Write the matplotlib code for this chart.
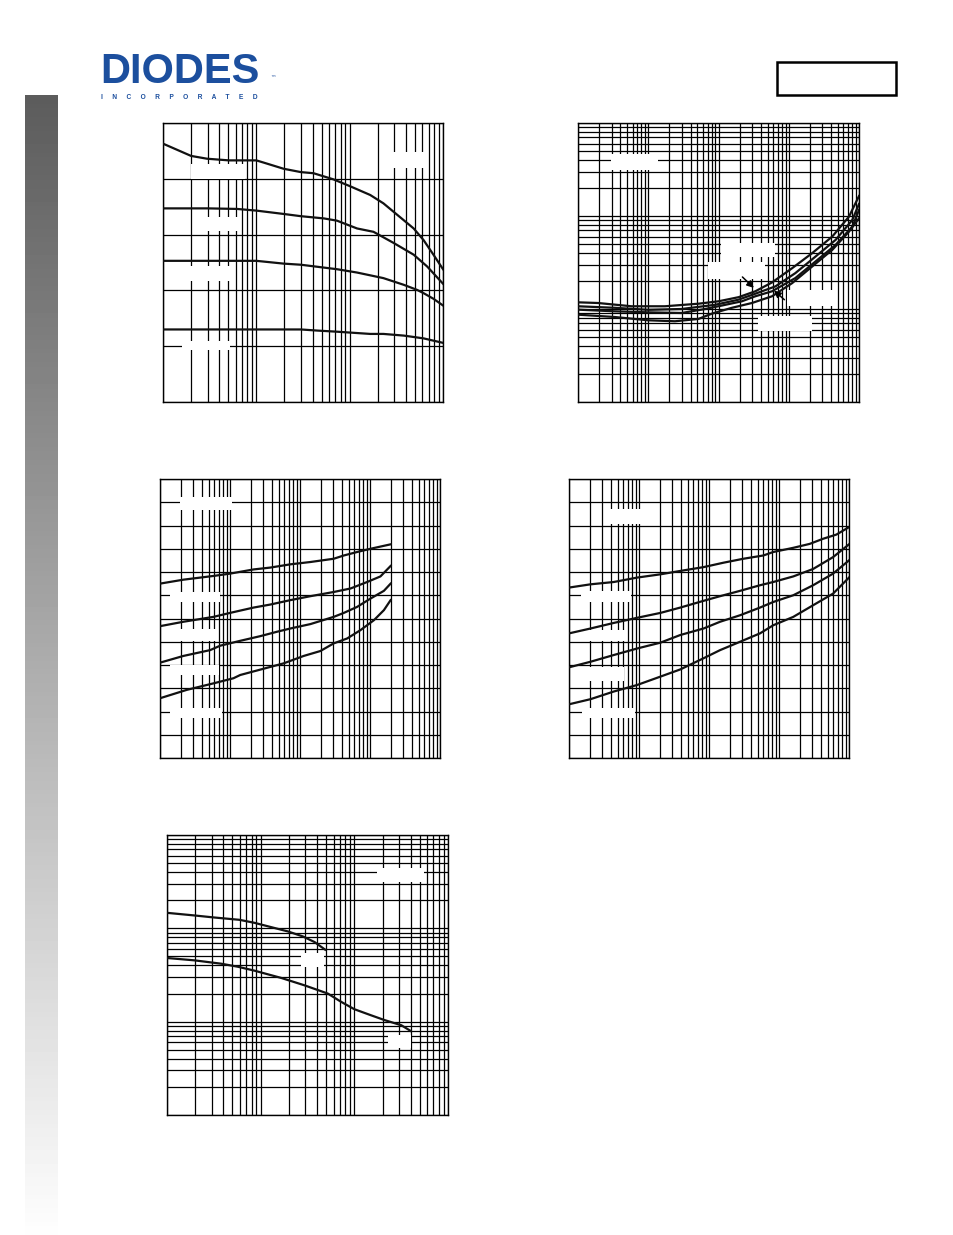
import numpy as np
import matplotlib
matplotlib.use("Agg")
from matplotlib import pyplot as plt
from matplotlib.patches import Rectangle

# ---- curve data (arbitrary units, axes have no labels) ----

# plot 1: log x 0.1..100, linear y 0..500
p1_x_a = [0.1, 0.2, 0.296, 0.509, 1.0, 1.2, 1.96, 3.0, 4.1, 6.7, 10, 16.6, 23, 31, 48.5, 62, 79, 100]
p1_y_a = [463, 441, 436, 433, 433, 429, 418, 412, 410, 399, 387, 371, 356, 338, 311, 290, 264, 238]
p1_x_b = [0.1, 0.3, 0.62, 1.0, 1.96, 3.0, 5.3, 7.3, 12, 18, 29.6, 48.5, 67.5, 100]
p1_y_b = [347, 347, 346, 343, 337, 333, 329, 325, 311, 305, 285, 264, 243, 212]
p1_x_c = [0.1, 1.0, 1.96, 3.0, 7.3, 12, 23, 38, 52.6, 62, 79, 100]
p1_y_c = [253, 253, 248, 246, 238, 232, 222, 210, 201, 195, 185, 173]
p1_x_d = [0.1, 3.0, 4.5, 7.3, 16.6, 23, 38, 62, 100]
p1_y_d = [130, 130, 128, 126, 122, 122, 119, 114, 106]

# plot 2: log x 0.1..1000, log y 1..1000
p2_x_a = [0.1, 0.193, 0.578, 1.73, 5.18, 10, 19.3, 33.4, 57.8, 112, 215, 416, 720, 1000]
p2_y_a = [11.8, 11.6, 10.7, 10.7, 11.4, 12.1, 13.4, 15.5, 19.3, 27.5, 39.8, 60.1, 98.4, 164]
p2_x_b = [0.1, 0.334, 1.0, 2.99, 8.96, 19.3, 33.4, 64.5, 124, 240, 464, 803, 1000]
p2_y_b = [10.7, 10.3, 9.8, 10.0, 11.1, 12.6, 14.6, 17.5, 24.3, 36.6, 55.3, 90.6, 134.5]
p2_x_c = [0.1, 0.334, 1.0, 2.99, 6.45, 11.2, 21.5, 33.4, 57.8, 124, 240, 464, 803, 1000]
p2_y_c = [9.84, 9.44, 9.21, 9.06, 10.0, 10.9, 12.1, 13.7, 15.5, 21.5, 32.4, 48.9, 76.9, 116]
p2_x_d = [0.1, 0.334, 1.0, 2.40, 5.18, 8.03, 15.5, 29.9, 57.8, 112, 215, 416, 720, 1000]
p2_y_d = [8.69, 8.20, 7.56, 7.38, 7.82, 8.91, 10.3, 11.6, 13.7, 19.0, 28.6, 43.2, 67.9, 94.4]

# plot 3: log x 0.1..1000, linear y 0..1.2
p3_x_a = [0.1, 0.216, 0.58, 1.0, 2.17, 3.76, 7.28, 14.1, 30.3, 42.2, 65.5, 102, 197]
p3_y_a = [0.750, 0.767, 0.783, 0.793, 0.811, 0.819, 0.833, 0.843, 0.857, 0.871, 0.886, 0.900, 0.919]
p3_x_b = [0.1, 0.216, 0.58, 1.0, 2.17, 3.76, 7.28, 14.1, 30.3, 52.6, 91, 141, 197]
p3_y_b = [0.567, 0.586, 0.607, 0.624, 0.647, 0.660, 0.679, 0.696, 0.714, 0.729, 0.757, 0.781, 0.826]
p3_x_c = [0.1, 0.216, 0.52, 0.723, 1.40, 2.70, 4.69, 7.28, 14.1, 30.3, 42.2, 65.5, 102, 158, 197]
p3_y_c = [0.410, 0.439, 0.464, 0.483, 0.504, 0.524, 0.543, 0.557, 0.576, 0.607, 0.624, 0.650, 0.686, 0.719, 0.750]
p3_x_d = [0.1, 0.241, 0.58, 1.12, 1.40, 3.02, 5.83, 11.3, 19.5, 30.3, 47.1, 73.1, 114, 158, 197]
p3_y_d = [0.257, 0.293, 0.321, 0.343, 0.357, 0.384, 0.407, 0.439, 0.460, 0.493, 0.514, 0.550, 0.593, 0.636, 0.679]

# plot 4: log x 0.1..1000, linear y 0..1.2
p4_x_a = [0.1, 0.203, 0.437, 0.940, 2.02, 4.34, 8.36, 16.1, 31.0, 59.7, 82.8, 160, 275, 427, 661, 1000]
p4_y_a = [0.733, 0.747, 0.757, 0.776, 0.790, 0.807, 0.821, 0.840, 0.857, 0.871, 0.886, 0.904, 0.921, 0.943, 0.961, 0.993]
p4_x = [0.1, 0.203, 0.437, 0.940, 2.02, 3.89, 8.36, 14.4, 27.8, 53.5, 82.8, 160, 307, 592, 1000]
p4_y_b = [0.536, 0.557, 0.581, 0.603, 0.624, 0.647, 0.676, 0.696, 0.719, 0.743, 0.757, 0.781, 0.813, 0.864, 0.919]
p4_y_c = [0.390, 0.414, 0.443, 0.471, 0.496, 0.529, 0.557, 0.586, 0.614, 0.647, 0.671, 0.700, 0.743, 0.793, 0.850]
p4_y_d = [0.231, 0.253, 0.286, 0.314, 0.350, 0.381, 0.429, 0.464, 0.500, 0.536, 0.571, 0.607, 0.657, 0.707, 0.776]

# plot 5: log x 0.1..100, log y 1..1000
p5_x_a = [0.1, 0.196, 0.321, 0.593, 0.858, 1.29, 1.95, 2.82, 3.76, 4.89]
p5_y_a = [146.6, 137.4, 130.6, 123.4, 114.6, 103.1, 92.7, 81.9, 71.3, 59.0]
p5_x_b = [0.1, 0.196, 0.378, 0.569, 0.858, 1.66, 2.94, 5.21, 7.24, 10.0, 15.1, 21.0, 31.7, 39.9]
p5_y_b = [48.1, 45.4, 41.8, 38.8, 35.2, 29.4, 24.5, 20.0, 16.3, 13.6, 11.7, 10.4, 9.16, 7.96]

W, H = 954, 1235
fig = plt.figure(figsize=(W / 100, H / 100), dpi=100)
fig.patch.set_facecolor("white")


def box(px, py, pw, ph):
    # pixel box (top-left origin) -> figure fraction rect
    return [px / W, 1 - (py + ph) / H, pw / W, ph / H]


def setup(ax, xlim, ylim, ylog, ydiv=None):
    ax.set_xscale("log")
    ax.set_xlim(*xlim)
    if ylog:
        ax.set_yscale("log")
        ax.set_ylim(*ylim)
    else:
        ax.set_ylim(*ylim)
        ax.set_yticks(np.linspace(ylim[0], ylim[1], ydiv + 1))
    ax.grid(True, which="major", color="black", lw=0.9)
    ax.grid(True, which="minor", color="black", lw=0.9)
    ax.tick_params(which="both", length=0, labelbottom=False, labelleft=False)
    for s in ax.spines.values():
        s.set_color("black")
        s.set_linewidth(1.0)


def blank(ax, rects):
    # white boxes where the labels sat on the original page
    for (x0, y0, w, h) in rects:
        ax.add_patch(Rectangle((x0, y0), w, h, transform=ax.transAxes,
                               facecolor="white", edgecolor="none", zorder=2))


curve = dict(color="#111111", lw=1.6, zorder=3)

# plot 1
ax1 = fig.add_axes(box(163, 123, 280, 279))
setup(ax1, (0.1, 100), (0, 500), False, 5)
for xs, ys in [(p1_x_a, p1_y_a), (p1_x_b, p1_y_b), (p1_x_c, p1_y_c), (p1_x_d, p1_y_d)]:
    ax1.plot(xs, ys, **curve)
blank(ax1, [(0.10, 0.80, 0.193, 0.052), (0.145, 0.614, 0.131, 0.048),
            (0.086, 0.432, 0.154, 0.054), (0.068, 0.188, 0.172, 0.03),
            (0.82, 0.837, 0.119, 0.06)])

# plot 2
ax2 = fig.add_axes(box(578, 123, 281, 279))
setup(ax2, (0.1, 1000), (1, 1000), True)
for xs, ys in [(p2_x_a, p2_y_a), (p2_x_b, p2_y_b), (p2_x_c, p2_y_c), (p2_x_d, p2_y_d)]:
    ax2.plot(xs, ys, **curve)
blank(ax2, [(0.117, 0.833, 0.169, 0.057), (0.510, 0.519, 0.19, 0.05),
            (0.462, 0.44, 0.205, 0.06), (0.744, 0.343, 0.167, 0.06),
            (0.640, 0.254, 0.193, 0.056)])
arrow = dict(arrowstyle="-|>", color="black", lw=1.1, mutation_scale=10)
ax2.annotate("", xy=(0.633, 0.402), xytext=(0.578, 0.455),
             xycoords="axes fraction", arrowprops=arrow, zorder=4)
ax2.annotate("", xy=(0.690, 0.406), xytext=(0.742, 0.360),
             xycoords="axes fraction", arrowprops=arrow, zorder=4)

# plot 3
ax3 = fig.add_axes(box(160, 479, 280, 279))
setup(ax3, (0.1, 1000), (0, 1.2), False, 12)
for xs, ys in [(p3_x_a, p3_y_a), (p3_x_b, p3_y_b), (p3_x_c, p3_y_c), (p3_x_d, p3_y_d)]:
    ax3.plot(xs, ys, **curve)
blank(ax3, [(0.072, 0.889, 0.185, 0.045), (0.036, 0.56, 0.179, 0.036),
            (0.036, 0.42, 0.167, 0.044), (0.036, 0.298, 0.173, 0.036),
            (0.036, 0.143, 0.185, 0.036)])

# plot 4
ax4 = fig.add_axes(box(569, 479, 280, 279))
setup(ax4, (0.1, 1000), (0, 1.2), False, 12)
ax4.plot(p4_x_a, p4_y_a, **curve)
for ys in [p4_y_b, p4_y_c, p4_y_d]:
    ax4.plot(p4_x, ys, **curve)
blank(ax4, [(0.148, 0.837, 0.166, 0.056), (0.042, 0.56, 0.178, 0.04),
            (0.042, 0.42, 0.16, 0.04), (0.042, 0.277, 0.154, 0.05),
            (0.047, 0.143, 0.19, 0.038)])

# plot 5
ax5 = fig.add_axes(box(167, 835, 281, 280))
setup(ax5, (0.1, 100), (1, 1000), True)
ax5.plot(p5_x_a, p5_y_a, **curve)
ax5.plot(p5_x_b, p5_y_b, **curve)
blank(ax5, [(0.748, 0.831, 0.166, 0.051), (0.477, 0.529, 0.083, 0.048),
            (0.786, 0.240, 0.083, 0.045)])

# grey gradient bar on the left
side = fig.add_axes(box(25, 95, 33, H - 95))
grad = np.linspace(0.36, 0.995, 256).reshape(-1, 1)
side.imshow(grad, cmap="gray", vmin=0, vmax=1, aspect="auto",
            extent=(0, 1, 1, 0))
side.axis("off")

# logo
fig.text(100 / W, 1 - 83 / H, "DIODES", fontsize=30, fontweight="bold",
         family="Liberation Sans", color="#1c4f9e", va="baseline", ha="left")
fig.text(270 / W, 1 - 80 / H, "\u2122", fontsize=4, color="#1c4f9e")
fig.text(101 / W, 1 - 99 / H, "     ".join("INCORPORATED"), fontsize=4.8,
         fontweight="bold", family="Liberation Sans", color="#1c4f9e", va="baseline")

# part number box, top right
fig.patches.append(Rectangle((777 / W, 1 - 95 / H), 119 / W, 33 / H,
                             transform=fig.transFigure, fill=False,
                             edgecolor="black", lw=1.8))

fig.savefig("out.png", dpi=100)
